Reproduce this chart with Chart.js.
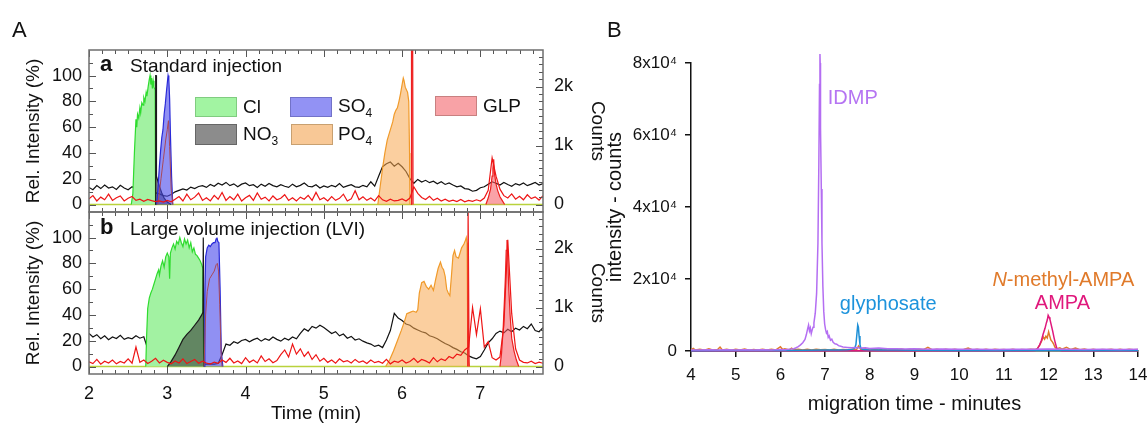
<!DOCTYPE html>
<html lang="en">
<head>
<meta charset="utf-8">
<title>Electropherograms</title>
<script src="https://cdn.jsdelivr.net/npm/chart.js@4.4.1/dist/chart.umd.min.js"></script>
<style>
    html, body { margin: 0; padding: 0; background: #fff; }
    body {
        position: relative; width: 1148px; height: 426px; overflow: hidden;
        font-family: "Liberation Sans", Arial, Helvetica, sans-serif; color: #111;
    }
    canvas { position: absolute; }
    #chartA1 { left: 0; top: 0; }
    #chartA2 { left: 0; top: 200px; }
    #chartB { left: 600px; top: 0; }
    .txt { position: absolute; line-height: 1; white-space: nowrap; }
    .panel { font-size: 22px; }
    .tag { font-size: 22px; font-weight: bold; }
    .cap { font-size: 19px; }
    .key { position: absolute; width: 42px; height: 20px; box-sizing: border-box; border: 1px solid; }
    .key-label { font-size: 19px; }
    .key-label sub { font-size: 12px; vertical-align: -5px; line-height: 0; }
</style>
</head>
<body>
<canvas id="chartA1" width="620" height="213"></canvas>
<canvas id="chartA2" width="620" height="226"></canvas>
<canvas id="chartB" width="548" height="426"></canvas>

<div class="txt panel" style="left:12px; top:19px;">A</div>
<div class="txt panel" style="left:607px; top:19px;">B</div>

<div class="txt tag" style="left:100px; top:53px;">a</div>
<div class="txt cap" style="left:130px; top:56px;">Standard injection</div>
<div class="txt tag" style="left:100px; top:216px;">b</div>
<div class="txt cap" style="left:130px; top:219px;">Large volume injection (LVI)</div>

<div class="key" style="left:195px; top:97px; background:#a2f4a2; border-color:#80cc80;"></div>
<div class="txt key-label" style="left:243px; top:97px;">Cl</div>
<div class="key" style="left:195px; top:124px; height:21px; background:#8c8c8c; border-color:#666;"></div>
<div class="txt key-label" style="left:243px; top:124px;">NO<sub>3</sub></div>
<div class="key" style="left:290px; top:97px; background:#9292f4; border-color:#7272c8;"></div>
<div class="txt key-label" style="left:338px; top:96px;">SO<sub>4</sub></div>
<div class="key" style="left:291px; top:124px; height:21px; background:#f8c896; border-color:#c8a070;"></div>
<div class="txt key-label" style="left:338px; top:124px;">PO<sub>4</sub></div>
<div class="key" style="left:435px; top:96px; background:#f8a2a6; border-color:#c88080;"></div>
<div class="txt key-label" style="left:483px; top:96px;">GLP</div>

<script>
(function () {
    'use strict';

    const FONT = '"Liberation Sans", Arial, Helvetica, sans-serif';
    Chart.defaults.font.family = FONT;

    // raw detector traces are sampled on a fixed time step
    const TRACE_T0 = 2.0;
    const TRACE_DT = 0.05;

    const timeTicks = [2, 3, 4, 5, 6, 7];
    const relTicks = [0, 20, 40, 60, 80, 100];
    const countTicks = [0, 1000, 2000];
    const countTickLabels = ['0', '1k', '2k'];

    // --- a: standard injection (rel. intensity %) ---
    const clA = [[2.54, 0], [2.56, 8], [2.58, 40], [2.60, 66], [2.61, 60], [2.62, 70], [2.635, 67],
        [2.65, 75], [2.66, 71], [2.675, 79], [2.69, 77], [2.70, 83], [2.715, 80], [2.73, 87],
        [2.74, 84], [2.755, 91], [2.77, 97], [2.78, 100], [2.79, 93], [2.80, 98], [2.81, 90],
        [2.82, 96], [2.83, 91], [2.845, 89], [2.85, 0]];
    const no3A = [[2.848, 0], [2.852, 100], [2.858, 100], [2.862, 22], [2.88, 18], [2.90, 14],
        [2.93, 9], [2.96, 5], [3.00, 2], [3.05, 0]];
    const so4A = [[2.865, 0], [2.88, 12], [2.90, 30], [2.915, 42], [2.93, 52], [2.945, 58],
        [2.96, 70], [2.975, 78], [2.99, 88], [3.00, 94], [3.01, 100], [3.02, 97], [3.03, 82],
        [3.04, 55], [3.055, 22], [3.07, 0]];
    const so4InnerA = [[2.88, 0], [2.92, 20], [2.95, 35], [2.98, 50], [3.00, 58], [3.015, 65],
        [3.03, 45], [3.05, 12], [3.07, 0]];
    const po4A = [[5.69, 0], [5.72, 14], [5.75, 28], [5.78, 40], [5.81, 50], [5.83, 54], [5.86, 60],
        [5.88, 64], [5.90, 70], [5.92, 73], [5.94, 75], [5.96, 80], [5.98, 86], [6.00, 93],
        [6.015, 98], [6.025, 96], [6.04, 91], [6.055, 89], [6.07, 87], [6.085, 80], [6.095, 40],
        [6.10, 0]];
    const glpA = [[6.115, 0], [6.12, 130], [6.135, 130], [6.14, 0], [6.6, null], [7.07, 0],
        [7.10, 5], [7.13, 12], [7.15, 22], [7.16, 28], [7.17, 35], [7.18, 24], [7.20, 16],
        [7.22, 11], [7.25, 6], [7.28, 3], [7.31, 0]];
    const baselineA = [[2.0, 0], [7.8, 0]];
    // counts, one value per TRACE_DT
    const blackCountsA = [
        290, 250, 320, 270, 330, 280, 300, 255, 325, 280,
        250, 300, 260, 240, 250, 230, 240, 200, 180, 150,
        140, 170, 215, 240, 265, 245, 295, 270, 305, 320,
        290, 340, 310, 360, 330, 375, 320, 350, 300, 345,
        365, 320, 335, 290, 345, 310, 355, 320, 300, 335,
        310, 290, 345, 300, 325, 365, 310, 300, 335, 280,
        315, 290, 325, 300, 355, 290, 315, 335, 300, 290,
        325, 300, 385, 310, 480, 640, 690, 720, 650, 700,
        640, 560, 440, 360, 425, 380, 410, 370, 395, 350,
        385, 340, 365, 330, 300, 315, 270, 260, 225, 240,
        285, 300, 345, 385, 360, 330, 375, 340, 310, 355,
        330, 365, 320, 345, 375, 330, 355];
    const redCountsA = [
        95, 150, 60, 125, 80, 175, 70, 115, 145, 60,
        105, 135, 70, 90, 55, 85, 65, 50, 60, 40,
        70, 45, 90, 135, 60, 175, 80, 125, 195, 70,
        115, 60, 155, 90, 205, 70, 135, 80, 175, 60,
        115, 155, 70, 195, 90, 125, 60, 145, 80, 105,
        165, 70, 115, 60, 125, 90, 155, 70, 205, 80,
        115, 60, 135, 70, 105, 175, 60, 95, 235, 80,
        130, 70, 110, 60, 150, 80, 55, 90, 60, 70,
        95, 60, 110, 300, 190, 120, 85, 140, 70, 105,
        60, 90, 55, 75, 50, 85, 45, 70, 55, 80,
        60, 110, 240, 790, 480, 260, 150, 110, 180, 90,
        140, 80, 165, 100, 130, 75, 150];

    // --- b: large volume injection ---
    const clB = [[2.725, 0], [2.735, 22], [2.75, 45], [2.77, 53], [2.79, 57], [2.81, 60], [2.83, 64],
        [2.85, 68], [2.87, 72], [2.89, 75], [2.90, 71], [2.92, 78], [2.94, 82], [2.96, 77],
        [2.98, 85], [3.00, 88], [3.02, 85], [3.03, 68], [3.04, 88], [3.06, 92], [3.08, 95],
        [3.10, 91], [3.12, 97], [3.14, 95], [3.16, 100], [3.18, 96], [3.20, 93], [3.22, 99],
        [3.24, 95], [3.26, 98], [3.28, 92], [3.30, 96], [3.32, 89], [3.34, 92], [3.36, 87],
        [3.38, 86], [3.40, 84], [3.42, 82], [3.44, 79], [3.455, 76], [3.465, 0]];
    const no3B = [[3.00, 0], [3.05, 4], [3.10, 9], [3.15, 15], [3.20, 21], [3.25, 25], [3.30, 28],
        [3.35, 32], [3.40, 36], [3.44, 40], [3.455, 42], [3.46, 100], [3.468, 100], [3.472, 0]];
    const so4B = [[3.47, 0], [3.48, 55], [3.49, 85], [3.51, 92], [3.53, 94], [3.55, 93], [3.57, 95],
        [3.59, 96], [3.61, 96], [3.625, 99], [3.635, 100], [3.645, 97], [3.66, 96], [3.675, 60],
        [3.69, 12], [3.71, 0]];
    const so4InnerB = [[3.47, 0], [3.49, 40], [3.51, 58], [3.54, 68], [3.57, 71], [3.60, 74],
        [3.625, 79], [3.64, 80], [3.655, 74], [3.67, 48], [3.69, 6], [3.70, 0]];
    const po4B = [[5.79, 0], [5.84, 5], [5.89, 12], [5.94, 20], [5.99, 28], [6.03, 35], [6.06, 41],
        [6.10, 42], [6.14, 43], [6.18, 42], [6.20, 44], [6.22, 57], [6.25, 65], [6.28, 66],
        [6.31, 62], [6.34, 60], [6.37, 63], [6.40, 59], [6.43, 68], [6.46, 76], [6.49, 81],
        [6.51, 77], [6.53, 75], [6.55, 70], [6.57, 60], [6.59, 57], [6.61, 55], [6.63, 70],
        [6.65, 86], [6.67, 90], [6.69, 85], [6.72, 84], [6.74, 88], [6.76, 92], [6.79, 95],
        [6.81, 98], [6.82, 100], [6.83, 96], [6.84, 6], [6.86, 0]];
    const glpB = [[6.838, 0], [6.843, 125], [6.852, 125], [6.857, 0], [7.0, null], [7.25, 0],
        [7.27, 10], [7.29, 28], [7.31, 55], [7.32, 70], [7.33, 90], [7.34, 98], [7.35, 86],
        [7.36, 64], [7.38, 40], [7.40, 22], [7.43, 12], [7.46, 5], [7.49, 0]];
    const baselineB = [[2.0, 0], [7.8, 0]];
    const blackCountsB = [
        560, 500, 540, 470, 520, 455, 500, 475, 530, 460,
        490, 470, 520, 480, 505, 300, 120, 70, 55, 45,
        40, 45, 40, 50, 45, 40, 50, 45, 40, 45,
        40, 45, 40, 50, 200, 380, 360, 420, 395, 440,
        460, 420, 455, 480, 430, 470, 445, 500, 460, 430,
        480, 450, 500, 470, 560, 640, 600, 680, 650, 700,
        660, 610, 560, 590, 520, 550, 480, 510, 450, 470,
        430, 400, 380, 340, 360, 320, 450, 610, 900, 820,
        780, 720, 700, 650, 620, 590, 570, 520, 500, 470,
        430, 390, 360, 320, 290, 250, 230, 180, 150, 130,
        170, 280, 400, 470, 560, 600, 570, 630, 590, 650,
        620, 680, 640, 720, 610, 590, 660];
    const redCountsB = [
        80, 50, 120, 40, 90, 60, 110, 45, 85, 60,
        130, 55, 330, 70, 110, 50, 90, 140, 60, 105,
        70, 45, 95, 60, 130, 50, 85, 120, 55, 90,
        60, 40, 75, 55, 110, 70, 140, 60, 95, 50,
        150, 70, 110, 60, 180, 85, 130, 65, 100, 200,
        280, 160, 380, 210, 300, 170, 250, 120, 200, 90,
        140, 70, 110, 55, 130, 80, 100, 60, 120, 70,
        95, 50, 110, 65, 85, 55, 120, 45, 90, 70,
        110, 60, 85, 140, 70, 120, 95, 60, 150, 80,
        130, 100, 170, 140, 210, 190, 280, 330, 1000, 540,
        980, 330, 420, 150, 110, 160, 700, 2150, 900, 300,
        110, 70, 60, 90, 50, 75, 55];

    // --- B: migration time (min) vs intensity (counts) ---
    const migrationTicks = [4, 5, 6, 7, 8, 9, 10, 11, 12, 13, 14];
    const intensityTicks = [0, 20000, 40000, 60000, 80000];
    const idmpB = [[4.0, 300], [4.2, 250], [4.4, 350], [4.6, 280], [4.8, 320], [5.0, 260], [5.2, 330],
        [5.4, 280], [5.6, 350], [5.8, 300], [6.0, 420], [6.1, 380], [6.2, 520], [6.3, 650],
        [6.35, 900], [6.4, 1200], [6.45, 1700], [6.5, 2300], [6.55, 3200], [6.58, 4500],
        [6.61, 6200], [6.63, 7200], [6.65, 5600], [6.67, 6400], [6.69, 4800], [6.71, 5800],
        [6.73, 6600], [6.75, 7800], [6.78, 10500], [6.81, 16000], [6.84, 30000], [6.86, 52000],
        [6.875, 74000], [6.885, 82500], [6.89, 80000], [6.895, 73500], [6.9, 62000],
        [6.915, 45000], [6.93, 30000], [6.95, 18000], [6.97, 11000], [6.99, 7500], [7.01, 6000],
        [7.03, 5000], [7.05, 5400], [7.07, 3800], [7.09, 4200], [7.12, 3000], [7.15, 3300],
        [7.18, 2400], [7.22, 2000], [7.26, 1900], [7.3, 1500], [7.35, 1300], [7.4, 1100],
        [7.5, 1000], [7.6, 900], [7.7, 1000], [7.8, 800], [7.9, 900], [8.0, 700], [8.2, 800],
        [8.4, 600], [8.6, 650], [8.8, 550], [9.0, 600], [9.3, 500], [9.6, 550], [10.0, 480],
        [10.4, 520], [10.8, 450], [11.2, 500], [11.6, 480], [12.0, 550], [12.4, 480],
        [12.8, 450], [13.2, 500], [13.6, 450], [14.0, 480]];
    const glyphosateB = [[4.0, 100], [5.0, 120], [6.0, 150], [6.5, 200], [7.0, 250], [7.3, 300],
        [7.5, 350], [7.6, 450], [7.66, 700], [7.69, 1800], [7.71, 4500], [7.73, 7200],
        [7.745, 6600], [7.76, 4200], [7.78, 1800], [7.8, 700], [7.85, 400], [7.95, 350],
        [8.2, 300], [8.6, 250], [9.0, 200], [10.0, 150], [11.0, 150], [12.0, 180], [13.0, 150],
        [14.0, 150]];
    const ampaB = [[4.0, 0], [6.0, 50], [8.0, 50], [10.0, 50], [11.5, 80], [11.7, 150], [11.75, 600],
        [11.8, 1700], [11.84, 3000], [11.88, 4800], [11.92, 6300], [11.95, 7800], [11.97, 8600],
        [11.99, 9900], [12.01, 9400], [12.03, 8800], [12.06, 7200], [12.09, 5600], [12.12, 3800],
        [12.15, 2200], [12.18, 900], [12.21, 300], [12.3, 100], [13.0, 60], [14.0, 60]];
    const methylAmpaB = [[4.0, 300], [4.05, 700], [4.1, 250], [4.2, 500], [4.3, 200], [4.4, 600],
        [4.5, 250], [4.6, 450], [4.65, 1100], [4.7, 300], [4.8, 500], [4.9, 200], [5.0, 450],
        [5.1, 250], [5.2, 550], [5.3, 200], [5.4, 400], [5.5, 300], [5.6, 500], [5.7, 250],
        [5.8, 450], [5.9, 300], [6.0, 1200], [6.05, 400], [6.1, 600], [6.2, 300], [6.25, 800],
        [6.3, 350], [6.4, 500], [6.5, 300], [6.6, 450], [6.7, 300], [6.8, 500], [6.9, 350],
        [7.0, 450], [7.1, 300], [7.2, 500], [7.3, 300], [7.4, 450], [7.5, 350], [7.6, 500],
        [7.7, 300], [7.75, 1400], [7.8, 400], [7.9, 600], [8.0, 300], [8.1, 500], [8.2, 300],
        [8.3, 650], [8.4, 300], [8.5, 500], [8.6, 250], [8.7, 550], [8.8, 300], [8.9, 450],
        [9.0, 300], [9.1, 500], [9.2, 350], [9.3, 1000], [9.4, 300], [9.5, 500], [9.6, 250],
        [9.7, 450], [9.8, 300], [9.9, 500], [10.0, 250], [10.1, 450], [10.2, 800], [10.3, 300],
        [10.4, 500], [10.5, 250], [10.6, 450], [10.7, 300], [10.8, 500], [10.9, 350],
        [11.0, 450], [11.1, 300], [11.2, 500], [11.3, 300], [11.4, 450], [11.5, 350],
        [11.6, 500], [11.7, 400], [11.75, 700], [11.8, 1600], [11.85, 2900], [11.88, 3900],
        [11.91, 3300], [11.94, 4100], [11.97, 3600], [12.0, 5300], [12.02, 4400], [12.05, 3100],
        [12.08, 2600], [12.11, 2000], [12.14, 1100], [12.18, 600], [12.25, 900], [12.3, 500],
        [12.4, 1000], [12.5, 400], [12.6, 800], [12.7, 350], [12.8, 550], [12.9, 300],
        [13.0, 500], [13.1, 300], [13.2, 450], [13.3, 350], [13.4, 500], [13.5, 300],
        [13.6, 450], [13.7, 300], [13.8, 500], [13.9, 350], [14.0, 400]];

    const peakNotes = [
        { lead: '', text: 'IDMP', x: 7.06, y: 68600, color: '#b574f2', align: 'left' },
        { lead: '', text: 'glyphosate', x: 7.33, y: 11400, color: '#1d93dc', align: 'left' },
        { lead: 'N', text: '-methyl-AMPA', x: 12.33, y: 18050, color: '#e07a2a', align: 'center' },
        { lead: '', text: 'AMPA', x: 12.31, y: 11600, color: '#e0187c', align: 'center' }
    ];

    function pairs(list) {
        return list.map(function (p) { return { x: p[0], y: p[1] }; });
    }

    function sampled(values) {
        return values.map(function (v, i) { return { x: TRACE_T0 + i * TRACE_DT, y: v }; });
    }

    function area(points, fillColor, lineColor) {
        return {
            data: pairs(points), yAxisID: 'y', fill: 'origin',
            backgroundColor: fillColor, borderColor: lineColor, borderWidth: 1.2,
            pointRadius: 0, tension: 0, spanGaps: false
        };
    }

    function trace(data, color, axis, width) {
        return {
            data: data, yAxisID: axis, fill: false, borderColor: color,
            borderWidth: width, pointRadius: 0, tension: 0
        };
    }

    function fixedTicks(values) {
        return function (scale) {
            scale.ticks = values.map(function (v) { return { value: v }; });
        };
    }

    // inside tick marks and the grey frame of panel A
    const frameTicks = {
        id: 'frameTicks',
        afterDatasetsDraw: function (chart) {
            const ctx = chart.ctx;
            const a = chart.chartArea;
            const sx = chart.scales.x;
            const sy = chart.scales.y;
            const sy1 = chart.scales.y1;
            ctx.save();
            ctx.strokeStyle = '#555';
            ctx.lineWidth = 1;
            ctx.beginPath();
            for (let k = 0; k <= 36; k++) {
                const t = 2 + k / 6;
                if (t > sx.max) break;
                const px = Math.round(sx.getPixelForValue(t)) + 0.5;
                const len = k % 6 === 0 ? 7 : 4;
                ctx.moveTo(px, a.bottom); ctx.lineTo(px, a.bottom - len);
                ctx.moveTo(px, a.top); ctx.lineTo(px, a.top + len);
            }
            for (let v = 0; v <= 110; v += 10) {
                const py = Math.round(sy.getPixelForValue(v)) + 0.5;
                ctx.moveTo(a.left, py); ctx.lineTo(a.left + (v % 20 === 0 ? 7 : 4), py);
            }
            for (let c = 0; c <= 2600; c += 125) {
                const py = Math.round(sy1.getPixelForValue(c)) + 0.5;
                ctx.moveTo(a.right, py); ctx.lineTo(a.right - (c % 1000 === 0 ? 7 : 4), py);
            }
            ctx.stroke();
            ctx.strokeStyle = '#6e6e6e';
            ctx.lineWidth = 1.5;
            ctx.strokeRect(a.left, a.top, a.right - a.left, a.bottom - a.top);
            ctx.restore();
        }
    };

    const peakLabels = {
        id: 'peakLabels',
        afterDatasetsDraw: function (chart) {
            const ctx = chart.ctx;
            const sx = chart.scales.x;
            const sy = chart.scales.y;
            ctx.save();
            ctx.textBaseline = 'alphabetic';
            ctx.textAlign = 'left';
            peakNotes.forEach(function (n) {
                const px = sx.getPixelForValue(n.x);
                const py = sy.getPixelForValue(n.y);
                ctx.font = 'italic 20px ' + FONT;
                const w0 = n.lead ? ctx.measureText(n.lead).width : 0;
                ctx.font = '20px ' + FONT;
                const w1 = ctx.measureText(n.text).width;
                const left = n.align === 'center' ? px - (w0 + w1) / 2 : px;
                ctx.fillStyle = n.color;
                if (n.lead) {
                    ctx.font = 'italic 20px ' + FONT;
                    ctx.fillText(n.lead, left, py);
                    ctx.font = '20px ' + FONT;
                }
                ctx.fillText(n.text, left + w0, py);
            });
            ctx.restore();
        }
    };

    function buildPanelA(canvasId, d, isBottom) {
        return new Chart(document.getElementById(canvasId), {
            type: 'line',
            data: {
                datasets: [
                    trace(sampled(d.red), '#ee1515', 'y1', 1.2),
                    area(d.glp, 'rgba(245, 85, 95, 0.55)', '#ee2020'),
                    area(d.po4, 'rgba(247, 168, 80, 0.55)', '#f09a2a'),
                    trace(pairs(d.so4Inner), '#a8485a', 'y', 1),
                    area(d.so4, 'rgba(70, 70, 235, 0.6)', '#2a2ad8'),
                    area(d.no3, 'rgba(45, 45, 45, 0.55)', '#1a1a1a'),
                    area(d.cl, '#a2f2a2', '#2fdc2f'),
                    trace(sampled(d.black), '#111', 'y1', 1.2),
                    trace(pairs(d.baseline), '#b9d23c', 'y', 1.5)
                ]
            },
            options: {
                responsive: false,
                animation: false,
                events: [],
                layout: {
                    autoPadding: false,
                    padding: isBottom ? { top: 12, bottom: 0, left: 0, right: 0 }
                        : { top: 50, bottom: 1, left: 0, right: 0 }
                },
                plugins: { legend: { display: false }, tooltip: { enabled: false } },
                scales: {
                    x: {
                        type: 'linear', min: 2, max: 7.8, display: isBottom,
                        afterBuildTicks: fixedTicks(timeTicks),
                        afterFit: function (s) {
                            s.height = isBottom ? 52 : 0;
                            s.paddingLeft = 0; s.paddingRight = 0;
                        },
                        grid: { display: false, drawTicks: false },
                        border: { display: false },
                        ticks: { font: { size: 18 }, color: '#111', padding: 9, maxRotation: 0, autoSkip: false },
                        title: { display: true, text: 'Time (min)', font: { size: 19 }, color: '#111', padding: { top: 0, bottom: 1 } }
                    },
                    y: {
                        position: 'left', min: -5.8, max: 119.8,
                        afterBuildTicks: fixedTicks(relTicks),
                        afterFit: function (s) { s.width = 89; s.paddingTop = 0; s.paddingBottom = 0; },
                        grid: { display: false, drawTicks: false },
                        border: { display: false },
                        ticks: { font: { size: 18 }, color: '#111', padding: 7 },
                        title: { display: true, text: 'Rel. Intensity (%)', font: { size: 19 }, color: '#111', padding: { top: 22, bottom: 0 } }
                    },
                    y1: {
                        position: 'right', min: -127, max: 2619,
                        afterBuildTicks: fixedTicks(countTicks),
                        afterFit: function (s) { s.width = 77; s.paddingTop = 0; s.paddingBottom = 0; },
                        grid: { display: false, drawTicks: false },
                        border: { display: false },
                        ticks: {
                            font: { size: 18 }, color: '#111', padding: 11,
                            callback: function (value) {
                                const k = countTicks.indexOf(value);
                                return k < 0 ? '' : countTickLabels[k];
                            }
                        },
                        title: { display: true, text: 'Counts', font: { size: 19 }, color: '#111', padding: { top: 11, bottom: 0 } }
                    }
                }
            },
            plugins: [frameTicks]
        });
    }

    function buildPanelB() {
        function line(points, color) {
            return {
                data: pairs(points), fill: false, borderColor: color, borderWidth: 1.5,
                pointRadius: 0, tension: 0, clip: false
            };
        }
        return new Chart(document.getElementById('chartB'), {
            type: 'line',
            data: {
                datasets: [
                    line(idmpB, '#b46ef2'),
                    line(glyphosateB, '#1d8fd6'),
                    line(ampaB, '#e0187c'),
                    line(methylAmpaB, '#e07a2a')
                ]
            },
            options: {
                responsive: false,
                animation: false,
                events: [],
                layout: { autoPadding: false, padding: { top: 63, right: 10, left: 0, bottom: 0 } },
                plugins: { legend: { display: false }, tooltip: { enabled: false } },
                scales: {
                    x: {
                        type: 'linear', min: 4, max: 14,
                        afterBuildTicks: fixedTicks(migrationTicks),
                        afterFit: function (s) { s.height = 75; s.paddingLeft = 0; s.paddingRight = 0; },
                        grid: { drawOnChartArea: false, drawTicks: true, tickLength: 6, color: '#111', lineWidth: 1.5 },
                        border: { color: '#111', width: 1.5 },
                        ticks: { font: { size: 17 }, color: '#111', padding: 8, maxRotation: 0, autoSkip: false },
                        title: { display: true, text: 'migration time - minutes', font: { size: 20 }, color: '#111', padding: { top: 0, bottom: 10 } }
                    },
                    y: {
                        min: 0, max: 80000,
                        afterBuildTicks: fixedTicks(intensityTicks),
                        afterFit: function (s) { s.width = 91; s.paddingTop = 0; s.paddingBottom = 0; },
                        grid: { drawOnChartArea: false, drawTicks: true, tickLength: 6, color: '#111', lineWidth: 1.5 },
                        border: { color: '#111', width: 1.5 },
                        ticks: {
                            font: { size: 17 }, color: '#111', padding: 8,
                            callback: function (value) {
                                return value === 0 ? '0' : (value / 10000) + 'x10\u2074';
                            }
                        },
                        title: { display: true, text: 'intensity - counts', font: { size: 20 }, color: '#111', padding: { top: 3, bottom: 0 } }
                    }
                }
            },
            plugins: [peakLabels]
        });
    }

    buildPanelA('chartA1', {
        cl: clA, no3: no3A, so4: so4A, so4Inner: so4InnerA, po4: po4A, glp: glpA,
        baseline: baselineA, black: blackCountsA, red: redCountsA
    }, false);
    buildPanelA('chartA2', {
        cl: clB, no3: no3B, so4: so4B, so4Inner: so4InnerB, po4: po4B, glp: glpB,
        baseline: baselineB, black: blackCountsB, red: redCountsB
    }, true);
    buildPanelB();
})();
</script>
</body>
</html>
